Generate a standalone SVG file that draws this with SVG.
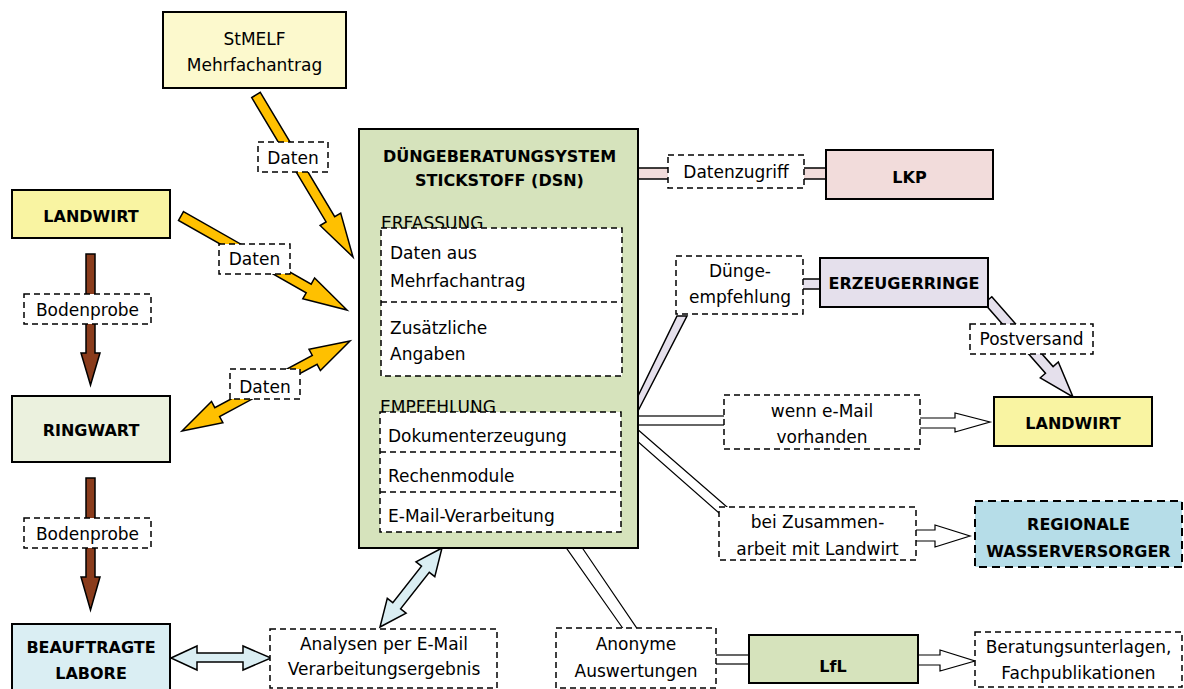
<svg xmlns="http://www.w3.org/2000/svg" width="1184" height="689" viewBox="0 0 1184 689">
<style>
.t{font-family:"DejaVu Sans","Liberation Sans",sans-serif;font-size:17px;fill:#000}
.b{font-family:"DejaVu Sans","Liberation Sans",sans-serif;font-size:16px;font-weight:bold;fill:#000}
.c{text-anchor:middle}
.box{stroke:#000;stroke-width:2}
.dash{fill:#fff;stroke:#000;stroke-width:1.5;stroke-dasharray:6 4}
.yel{fill:#FFC000;stroke:#000;stroke-width:1.5;stroke-linejoin:miter}
.brn{fill:#8A3C1C;stroke:#000;stroke-width:1.5}
.lb{fill:#DAEEF3;stroke:#000;stroke-width:1.5}
.wh{fill:#fff;stroke:#000;stroke-width:1.2}
.lav{fill:#E5E0EC;stroke:#000;stroke-width:1.5}
.pink{fill:#F2DCDB;stroke:#000;stroke-width:1.5}
</style>
<rect width="1184" height="689" fill="#fff"/>
<g id="connectors">
  <polygon class="yel" points="260.3,92.4 334.7,216.7 340.7,213.1 353,257 320.1,225.5 326.1,221.9 251.7,97.6"/>
  <polygon class="yel" points="183.5,211.6 311.2,284.1 314.6,278 347,310 302.8,298.8 306.2,292.8 178.5,220.4"/>
  <polygon class="yel" points="182,431 222.9,422.7 219.6,416.5 317.1,364.3 320.4,370.5 350,341 309,349.3 312.3,355.5 214.8,407.7 211.5,401.5"/>
  <polygon class="brn" points="86,254 95,254 95,353 100,353 90.5,385 81,353 86,353"/>
  <polygon class="brn" points="86,478 95,478 95,577 100,577 90.5,610 81,577 86,577"/>
  <polygon class="lb" points="171,658 197,646 197,653 243,653 243,646 271,658 243,670 243,662 197,662 197,670"/>
  <polygon class="lb" points="380,627 406.1,613.2 400.6,608.9 429.3,572.3 434.8,576.6 442,548 416,561.8 421.5,566.1 392.8,602.7 387.3,598.4"/>
  <rect class="pink" x="636" y="168" width="192" height="11"/>
  <polygon class="lav" points="638,396 677,316 687,316 638,411"/>
  <rect class="lav" x="800" y="279" width="22" height="10"/>
  <polygon class="lav" points="991.8,296.7 1053.1,366.6 1058.3,362 1073,397 1040.3,377.8 1045.5,373.2 984.2,303.3"/>
  <rect class="wh" x="636" y="416" width="90" height="9"/>
  <polygon class="wh" points="918,418 955,418 955,413 990,422 955,432 955,428 918,428"/>
  <polygon class="wh" points="636,428 727,507 719,513 636,440"/>
  <polygon class="wh" points="914,530 935,530 935,525 970,536 935,547 935,541 914,541"/>
  <polygon class="wh" points="565,546 581,546 638,630 624,630"/>
  <rect class="wh" x="714" y="655" width="37" height="9"/>
  <polygon class="wh" points="916,655 940,655 940,650 975,661 940,671 940,665 916,665"/>
</g>
<g id="stmelf">
  <rect class="box" x="163" y="12" width="183" height="76" fill="#FCF9CD"/>
  <text class="t c" x="254.5" y="45">StMELF</text>
  <text class="t c" x="254.5" y="71">Mehrfachantrag</text>
</g>
<g id="landwirt-left">
  <rect class="box" x="12" y="190" width="158" height="48" fill="#F9F4A2"/>
  <text class="b c" x="91" y="222">LANDWIRT</text>
</g>
<g id="ringwart">
  <rect class="box" x="12" y="396" width="158" height="66" fill="#EBF1DE"/>
  <text class="b c" x="91" y="436">RINGWART</text>
</g>
<g id="labore">
  <rect class="box" x="12" y="624" width="158" height="70" fill="#DAEEF3"/>
  <text class="b c" x="91" y="653">BEAUFTRAGTE</text>
  <text class="b c" x="91" y="679">LABORE</text>
</g>
<g id="dsn">
  <rect class="box" x="359" y="129" width="279" height="419" fill="#D6E3BC"/>
  <text class="b c" x="499.5" y="162">DÜNGEBERATUNGSYSTEM</text>
  <text class="b c" x="499.5" y="186">STICKSTOFF (DSN)</text>
  <text class="t" x="381" y="229">ERFASSUNG</text>
  <rect class="dash" x="381" y="228" width="241" height="148"/>
  <line x1="381" y1="302" x2="622" y2="302" stroke="#000" stroke-width="1.5" stroke-dasharray="6 4"/>
  <text class="t" x="390" y="259">Daten aus</text>
  <text class="t" x="390" y="287">Mehrfachantrag</text>
  <text class="t" x="390" y="334">Zusätzliche</text>
  <text class="t" x="390" y="360">Angaben</text>
  <text class="t" x="380" y="413">EMPFEHLUNG</text>
  <rect class="dash" x="380" y="412" width="241" height="120"/>
  <line x1="380" y1="452" x2="621" y2="452" stroke="#000" stroke-width="1.5" stroke-dasharray="6 4"/>
  <line x1="380" y1="492" x2="621" y2="492" stroke="#000" stroke-width="1.5" stroke-dasharray="6 4"/>
  <text class="t" x="388" y="442">Dokumenterzeugung</text>
  <text class="t" x="388" y="482">Rechenmodule</text>
  <text class="t" x="388" y="522">E-Mail-Verarbeitung</text>
</g>
<g id="lkp">
  <rect class="box" x="826" y="150" width="167" height="49" fill="#F2DCDB"/>
  <text class="b c" x="909.5" y="183">LKP</text>
</g>
<g id="erzeugerringe">
  <rect class="box" x="820" y="258" width="168" height="49" fill="#E5E0EC"/>
  <text class="b c" x="904" y="289">ERZEUGERRINGE</text>
</g>
<g id="landwirt-right">
  <rect class="box" x="994" y="397" width="158" height="49" fill="#F9F4A2"/>
  <text class="b c" x="1073" y="429">LANDWIRT</text>
</g>
<g id="wasserversorger">
  <rect x="975" y="501" width="207" height="66" fill="#B6DDE8" stroke="#000" stroke-width="2" stroke-dasharray="8 5"/>
  <text class="b c" x="1078.5" y="530">REGIONALE</text>
  <text class="b c" x="1078.5" y="557">WASSERVERSORGER</text>
</g>
<g id="lfl">
  <rect class="box" x="749" y="635" width="169" height="48" fill="#D6E3BC"/>
  <text class="b c" x="833" y="672">LfL</text>
</g>
<g id="labels">
  <rect class="dash" x="258" y="142" width="70" height="30"/>
  <text class="t c" x="293" y="163.5">Daten</text>
  <rect class="dash" x="219" y="244" width="71" height="30"/>
  <text class="t c" x="254.5" y="265">Daten</text>
  <rect class="dash" x="230" y="369" width="70" height="30"/>
  <text class="t c" x="265" y="393">Daten</text>
  <rect class="dash" x="24" y="294" width="127" height="30"/>
  <text class="t c" x="87.5" y="316">Bodenprobe</text>
  <rect class="dash" x="24" y="518" width="127" height="30"/>
  <text class="t c" x="87.5" y="540">Bodenprobe</text>
  <rect class="dash" x="270" y="629" width="227" height="59"/>
  <text class="t c" x="384" y="650">Analysen per E-Mail</text>
  <text class="t c" x="384" y="675">Verarbeitungsergebnis</text>
  <rect class="dash" x="668" y="155" width="136" height="33"/>
  <text class="t c" x="736" y="178">Datenzugriff</text>
  <rect class="dash" x="676" y="256" width="127" height="58"/>
  <text class="t c" x="740" y="277">Dünge-</text>
  <text class="t c" x="740" y="303">empfehlung</text>
  <rect class="dash" x="970" y="324" width="123" height="30"/>
  <text class="t c" x="1031.5" y="345">Postversand</text>
  <rect class="dash" x="724" y="395" width="196" height="54"/>
  <text class="t c" x="822" y="417">wenn e-Mail</text>
  <text class="t c" x="822" y="443">vorhanden</text>
  <rect class="dash" x="719" y="507" width="197" height="53"/>
  <text class="t c" x="817.5" y="528">bei Zusammen-</text>
  <text class="t c" x="817.5" y="555">arbeit mit Landwirt</text>
  <rect class="dash" x="556" y="628" width="160" height="60"/>
  <text class="t c" x="636" y="650">Anonyme</text>
  <text class="t c" x="636" y="677">Auswertungen</text>
  <rect class="dash" x="975" y="632" width="207" height="55"/>
  <text class="t c" x="1078.5" y="653">Beratungsunterlagen,</text>
  <text class="t c" x="1078.5" y="679">Fachpublikationen</text>
</g>
</svg>
